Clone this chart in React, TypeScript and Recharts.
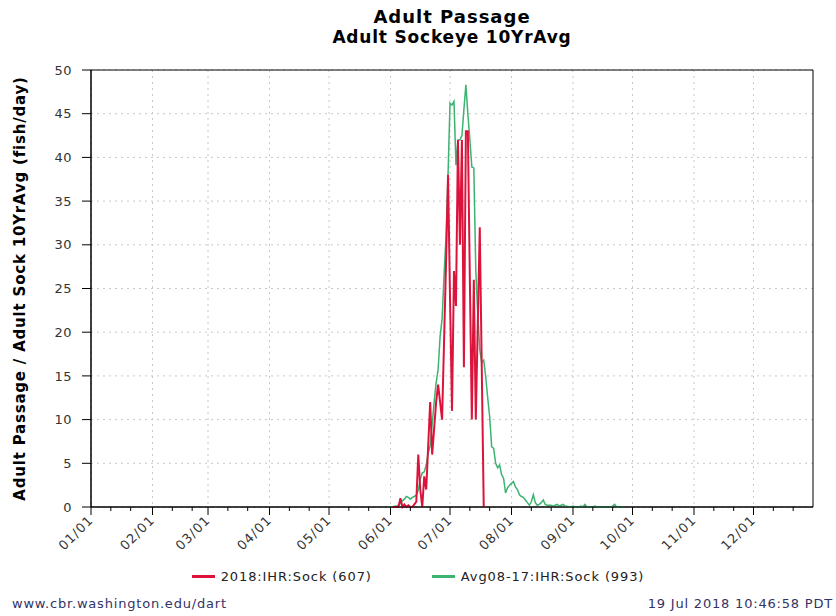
import React from 'react';
import { LineChart, Line, XAxis, YAxis, CartesianGrid, Legend, ReferenceArea } from 'recharts';

const FONT = '"DejaVu Sans", Verdana, sans-serif';

// day-of-year (0 = Jan 1) where each month starts, and its tick label
const MONTH_START_DAYS = [0, 31, 59, 90, 120, 151, 181, 212, 243, 273, 304, 334];
const MONTH_LABELS = ['01/01', '02/01', '03/01', '04/01', '05/01', '06/01', '07/01', '08/01', '09/01', '10/01', '11/01', '12/01'];
const YEAR_LAST_DAY = 364;
const Y_TICKS = [0, 5, 10, 15, 20, 25, 30, 35, 40, 45, 50];

// 2018 daily counts, first value is day 152 (06/02)
const RED_START_DAY = 152;
const redValues = [
  0, 0, 0, 0, 1.0, 0, 0.3, 0, 0.2, 0, 0, 0.3, 0.6,
  6, 2, 0, 3.5, 2, 7, 12, 6, 9, 12, 14, 12, 10,
  19, 28, 38, 24, 11, 27, 23, 42, 30, 42, 16, 43, 43,
  26, 10, 26, 10, 21, 32, 16, 0,
];

// 10 year average, first value is day 150 (05/31)
const GREEN_START_DAY = 150;
const greenValues = [
  0, 0, 0, 0.1, 0.1, 0.2, 0.4, 0.7, 0.9, 1.2,
  1.1, 0.9, 1.1, 1.2, 1.4, 1.9, 3.2, 3.9, 4.0, 4.8,
  6.2, 7.0, 9.5, 12.0, 14.2, 15.7, 19.5, 21.5, 26.5, 31.0,
  38.0, 46.2, 46.0, 46.4, 39.1, 42.0, 42.0, 42.5, 45.5, 48.3,
  45.0, 42.0, 38.9, 38.8, 27.0, 22.0, 18.0, 16.5, 16.8, 14.9,
  12.5, 10.3, 6.9, 6.7, 5.0, 4.5, 4.8, 3.7, 3.3, 1.6,
  2.2, 2.5, 2.7, 2.9, 2.3, 2.0, 1.4, 1.2, 1.1, 0.8,
  0.5, 0.2, 0.6, 1.4, 0.5, 0.2, 0.3, 0.5, 0.8, 0.3,
  0.2, 0.2, 0.2, 0.1, 0.2, 0.3, 0.1, 0.2, 0.3, 0.1,
  0.1, 0, 0, 0.1, 0, 0, 0, 0.1, 0, 0.3,
  0, 0, 0, 0, 0.1, 0, 0, 0, 0, 0,
  0, 0, 0, 0.1, 0.3, 0, 0, 0, 0, 0,
];

const RED_NAME = '2018:IHR:Sock (607)';
const GREEN_NAME = 'Avg08-17:IHR:Sock (993)';

// ticks on the 1st, 11th and 21st of every month
const xTicks = MONTH_START_DAYS.flatMap((d) => [d, d + 10, d + 20]);

const firstDay = Math.min(RED_START_DAY, GREEN_START_DAY);
const lastDay = Math.max(RED_START_DAY + redValues.length, GREEN_START_DAY + greenValues.length) - 1;
const rows: { day: number; red?: number; green?: number }[] = [];
for (let day = firstDay; day <= lastDay; day++) {
  rows.push({
    day,
    red: redValues[day - RED_START_DAY],
    green: greenValues[day - GREEN_START_DAY],
  });
}

const DayTick = (props: any) => {
  const { x, y, payload } = props;
  const idx = MONTH_START_DAYS.indexOf(payload.value);
  const major = idx >= 0;
  const tx = x + 3;
  const ty = y + 14;
  return (
    <g>
      <line x1={x} x2={x} y1={y} y2={y + (major ? 8 : 4)} stroke="#000" />
      {major && (
        <text x={tx} y={ty} textAnchor="end" transform={`rotate(-45 ${tx} ${ty})`} fontSize={13} letterSpacing={1} fontFamily={FONT} fill="#333">
          {MONTH_LABELS[idx]}
        </text>
      )}
    </g>
  );
};

const YTitle = (props: any) => {
  const { viewBox } = props;
  const cy = viewBox.y + viewBox.height / 2;
  return (
    <text x={20} y={cy} transform={`rotate(-90 20 ${cy})`} textAnchor="middle" dominantBaseline="central" fontSize={15} letterSpacing={0.8} fontWeight="bold" fontFamily={FONT} fill="#000">
      Adult Passage / Adult Sock 10YrAvg (fish/day)
    </text>
  );
};

const LegendContent = (props: any) => {
  const items = [...(props.payload || [])].sort((a: any, b: any) => (a.value < b.value ? -1 : 1));
  return (
    <div style={{ display: 'flex', justifyContent: 'center', gap: 60, fontSize: 13, letterSpacing: 0.9, fontFamily: FONT, color: '#222' }}>
      {items.map((p: any) => (
        <div key={p.value} style={{ display: 'flex', alignItems: 'center' }}>
          <span style={{ display: 'inline-block', width: 23, height: 3, background: p.color, marginRight: 6 }} />
          <span>{p.value}</span>
        </div>
      ))}
    </div>
  );
};

export default function App() {
  return (
    <div style={{ position: 'absolute', left: 0, top: 0, width: 836, height: 616, background: '#fff', fontFamily: FONT }}>
      <div style={{ position: 'absolute', top: 6, left: 91, width: 722, textAlign: 'center', fontWeight: 'bold', fontSize: 18, letterSpacing: 1, lineHeight: '21px' }}>
        Adult Passage
      </div>
      <div style={{ position: 'absolute', top: 27, left: 91, width: 722, textAlign: 'center', fontWeight: 'bold', fontSize: 17, letterSpacing: 0.8, lineHeight: '21px' }}>
        Adult Sockeye 10YrAvg
      </div>
      <LineChart width={836} height={616} data={rows} margin={{ top: 70, right: 23, bottom: 49, left: 0 }}>
        <CartesianGrid stroke="#c8c8c8" strokeDasharray="2 4" verticalValues={MONTH_START_DAYS} horizontalValues={Y_TICKS} />
        <XAxis
          dataKey="day"
          type="number"
          domain={[0, YEAR_LAST_DAY]}
          ticks={xTicks}
          interval={0}
          tick={<DayTick />}
          tickLine={false}
          tickSize={0}
          tickMargin={0}
          height={60}
          axisLine={{ stroke: '#000' }}
        />
        <YAxis
          type="number"
          domain={[0, 50]}
          ticks={Y_TICKS}
          interval={0}
          width={91}
          tickSize={9}
          tickMargin={10}
          tickLine={{ stroke: '#000' }}
          axisLine={{ stroke: '#000' }}
          tick={{ fontSize: 13, fontFamily: FONT, fill: '#333', letterSpacing: 0.5 }}
          label={<YTitle />}
        />
        <ReferenceArea x1={0} x2={YEAR_LAST_DAY} y1={0} y2={50} fill="none" stroke="#000" strokeWidth={1} ifOverflow="visible" />
        <Line
          type="linear"
          dataKey="green"
          name={GREEN_NAME}
          stroke="#3cb371"
          strokeWidth={1.5}
          dot={false}
          activeDot={false}
          isAnimationActive={false}
        />
        <Line
          type="linear"
          dataKey="red"
          name={RED_NAME}
          stroke="#dc143c"
          strokeWidth={2}
          dot={false}
          activeDot={false}
          isAnimationActive={false}
        />
        <Legend
          layout="horizontal"
          verticalAlign="middle"
          align="center"
          content={<LegendContent />}
          wrapperStyle={{ top: 569, left: 0, width: 836 }}
        />
      </LineChart>
      <div style={{ position: 'absolute', top: 596, left: 12, fontSize: 13, letterSpacing: 0.8, color: '#333366' }}>www.cbr.washington.edu/dart</div>
      <div style={{ position: 'absolute', top: 596, right: 3, fontSize: 13, letterSpacing: 0.8, color: '#333366' }}>19 Jul 2018 10:46:58 PDT</div>
    </div>
  );
}
